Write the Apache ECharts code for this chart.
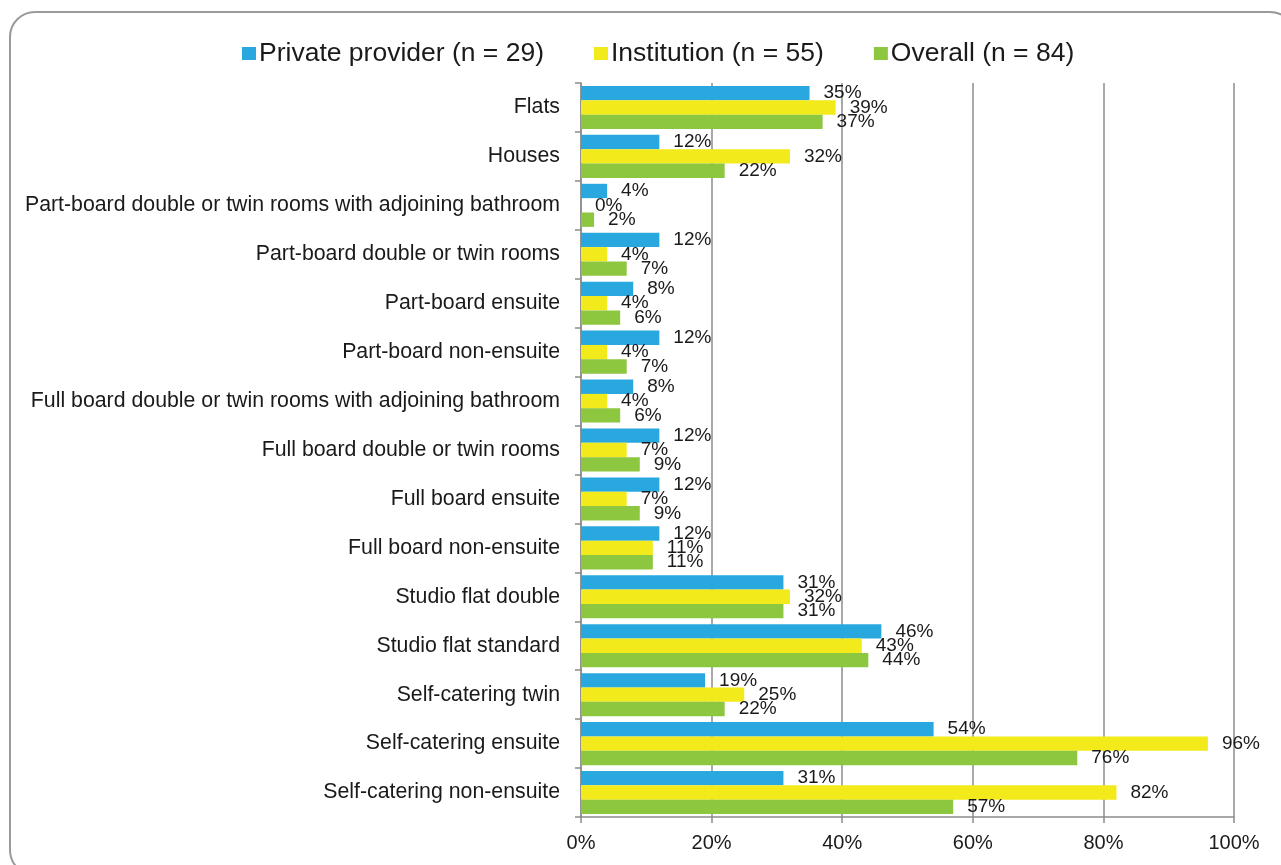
<!DOCTYPE html>
<html>
<head>
<meta charset="utf-8">
<script src="https://cdn.jsdelivr.net/npm/echarts@6/dist/echarts.min.js"></script>
<style>
  html, body { margin: 0; padding: 0; background: #fff; }
  #chart { width: 1281px; height: 865px; }
</style>
</head>
<body>
<div id="chart"></div>
<script>
const categories = [
  'Flats',
  'Houses',
  'Part-board double or twin rooms with adjoining bathroom',
  'Part-board double or twin rooms',
  'Part-board ensuite',
  'Part-board non-ensuite',
  'Full board double or twin rooms with adjoining bathroom',
  'Full board double or twin rooms',
  'Full board ensuite',
  'Full board non-ensuite',
  'Studio flat double',
  'Studio flat standard',
  'Self-catering twin',
  'Self-catering ensuite',
  'Self-catering non-ensuite'
];
const seriesNames = ['Private provider (n = 29)', 'Institution (n = 55)', 'Overall (n = 84)'];
const privateProvider = [35, 12, 4, 12, 8, 12, 8, 12, 12, 12, 31, 46, 19, 54, 31];
const institution     = [39, 32, 0, 4, 4, 4, 4, 7, 7, 11, 32, 43, 25, 96, 82];
const overall         = [37, 22, 2, 7, 6, 7, 6, 9, 9, 11, 31, 44, 22, 76, 57];
const xTicks = [0, 20, 40, 60, 80, 100];

const colors = ['#29A8E0', '#F2EA1B', '#8DC63F'];
const font = 'Liberation Sans, Arial, sans-serif';

const chart = echarts.init(document.getElementById('chart'), null, { renderer: 'canvas' });

function mkSeries(name, data, color) {
  return {
    name: name,
    type: 'bar',
    data: data,
    barGap: '0%',
    barCategoryGap: '12%',
    itemStyle: { color: color },
    label: {
      show: true,
      position: 'right',
      distance: 14,
      formatter: '{c}%',
      color: '#1a1a1a',
      fontSize: 19,
      fontFamily: font
    },
    animation: false
  };
}

chart.setOption({
  animation: false,
  color: colors,
  graphic: [{
    type: 'rect',
    shape: { x: 10, y: 12, width: 1285, height: 863, r: 25 },
    style: { fill: 'none', stroke: '#9a9a9a', lineWidth: 2 },
    silent: true,
    z: -1
  }],
  legend: {
    top: 35,
    left: 237,
    itemWidth: 14,
    itemHeight: 13,
    itemGap: 50,
    icon: 'rect',
    textStyle: { fontSize: 26.5, color: '#1a1a1a', fontFamily: font, padding: [0, 0, 0, -2] },
    data: seriesNames
  },
  grid: { left: 581, right: 47, top: 83, bottom: 48, containLabel: false },
  xAxis: {
    type: 'value',
    min: 0,
    max: 100,
    interval: 20,
    axisLine: { show: true, lineStyle: { color: '#8c8c8c', width: 1.5 } },
    axisTick: { show: true, length: 6, lineStyle: { color: '#8c8c8c', width: 1.5 } },
    splitLine: { show: true, lineStyle: { color: '#8c8c8c', width: 1.5 } },
    axisLabel: {
      formatter: function (v) { return xTicks.indexOf(v) >= 0 ? v + '%' : ''; },
      fontSize: 20,
      color: '#1a1a1a',
      fontFamily: font,
      margin: 16
    }
  },
  yAxis: {
    type: 'category',
    data: categories,
    inverse: true,
    axisLine: { show: true, lineStyle: { color: '#8c8c8c', width: 1.5 } },
    axisTick: { show: true, length: 6, alignWithLabel: false, lineStyle: { color: '#8c8c8c', width: 1.5 } },
    axisLabel: {
      fontSize: 21.3,
      color: '#1a1a1a',
      fontFamily: font,
      margin: 21
    }
  },
  series: [
    mkSeries(seriesNames[0], privateProvider, colors[0]),
    mkSeries(seriesNames[1], institution, colors[1]),
    mkSeries(seriesNames[2], overall, colors[2])
  ]
});
</script>
</body>
</html>
